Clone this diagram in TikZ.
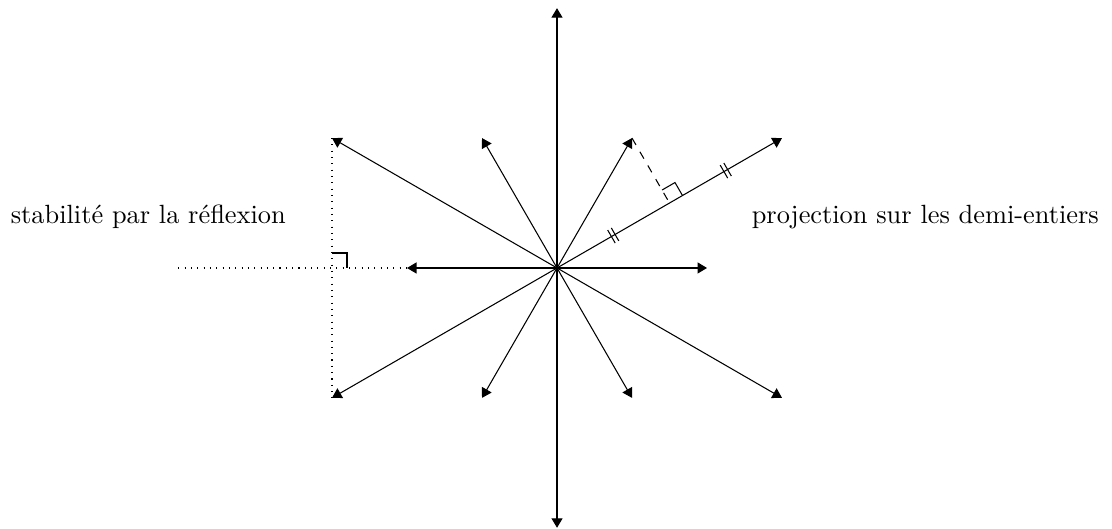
\documentclass[tikz,border=0pt]{standalone}
\usetikzlibrary{arrows.meta,calc}
\tikzset{
  root/.style={-{Triangle[length=3.6pt,width=4.2pt]}},
  helper/.style={dotted},
  proj/.style={dashed},
  txt/.style={inner sep=3.33pt}
}
\begin{document}
\begin{tikzpicture}
\useasboundingbox (-7.427,-3.48) rectangle (7.4,3.573);
\coordinate (O) at (0,0);
% short roots
\coordinate (s1) at (2,0);
\coordinate (s2) at (1,1.732);
\coordinate (s3) at (-1,1.732);
\coordinate (s4) at (-2,0);
\coordinate (s5) at (-1,-1.732);
\coordinate (s6) at (1,-1.732);
% long roots
\coordinate (l1) at (3,1.732);
\coordinate (l2) at (0,3.464);
\coordinate (l3) at (-3,1.732);
\coordinate (l4) at (-3,-1.732);
\coordinate (l5) at (0,-3.464);
\coordinate (l6) at (3,-1.732);
\foreach \r in {s1,s2,s3,s4,s5,s6,l1,l2,l3,l4,l5,l6}
  \draw[root] (O) -- (\r);
% reflection
\coordinate (hl) at (-5.05,0);
\coordinate (fm) at (-3,0);
\draw[helper] (l3) -- (l4);
\draw[helper] (hl) -- (s4);
\draw (-3,0.2) -- (-2.8,0.2) -- (-2.8,0);
% projection
\coordinate (P) at (1.5,0.866);
\draw[proj] (s2) -- (P);
\draw ($(P)+(30:0.2)$) -- ($(P)+(30:0.2)+(120:0.2)$) -- ($(P)+(120:0.2)$);
\coordinate (t1) at (0.75,0.433);
\coordinate (t2) at (2.25,1.299);
\foreach \t in {t1,t2}{
  \begin{scope}[shift={(\t)},rotate=30]
    \draw (-0.028,-0.1) -- (-0.028,0.1) (0.028,-0.1) -- (0.028,0.1);
  \end{scope}
}
\node[txt] (refl) at (-5.45,0.68) {stabilité par la réflexion};
\node[txt] (projtxt) at (4.91,0.68) {projection sur les demi-entiers};
\end{tikzpicture}
\end{document}
